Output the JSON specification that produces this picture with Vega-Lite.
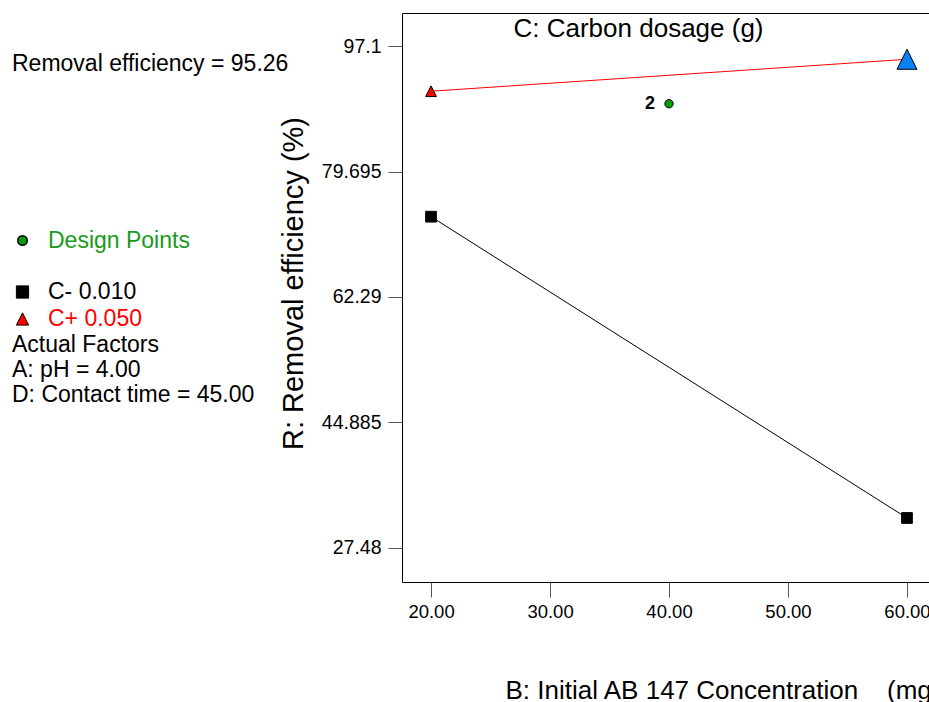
{
  "$schema": "https://vega.github.io/schema/vega-lite/v6.json",
  "width": 527,
  "height": 569,
  "autosize": {"type": "none"},
  "padding": {"left": 402, "top": 13, "right": 0, "bottom": 120},
  "background": "white",
  "config": {
    "view": {"stroke": null},
    "font": "Liberation Sans",
    "axis": {"grid": false, "labelFont": "Liberation Sans", "titleFont": "Liberation Sans", "labelColor": "#000", "titleColor": "#000", "domainColor": "#000", "tickColor": "#555", "titleFontWeight": "normal"},
    "legend": {"labelFont": "Liberation Sans", "titleFont": "Liberation Sans", "titleColor": "#000", "titleFontWeight": "normal", "titleLimit": 500, "labelLimit": 500}
  },
  "datasets": {
    "lines": [
      {"B": 20, "R": 73.43, "series": "C- 0.010"},
      {"B": 60, "R": 31.64, "series": "C- 0.010"},
      {"B": 20, "R": 90.83, "series": "C+ 0.050"},
      {"B": 60, "R": 95.26, "series": "C+ 0.050"}
    ],
    "design": [{"B": 40, "R": 89.1, "kind": "Design Points", "count": "2"}],
    "pred": [{"B": 60, "R": 95.26}]
  },
  "layer": [
    {
      "data": {"name": "lines"},
      "mark": {"type": "line", "strokeWidth": 1},
      "encoding": {
        "x": {
          "field": "B", "type": "quantitative",
          "scale": {"domain": [17.56, 61.85], "nice": false, "zero": false},
          "axis": {
            "orient": "bottom", "values": [20, 30, 40, 50, 60], "format": ".2f",
            "title": "B: Initial AB 147 Concentration\u00a0\u00a0\u00a0\u00a0(mg/L)",
            "titleX": 103, "titleY": 108, "titleAlign": "left", "titleBaseline": "middle", "titleAnchor": null,
            "titleFontSize": 26, "labelFontSize": 18.5, "tickSize": 15, "labelPadding": 5
          }
        },
        "y": {
          "field": "R", "type": "quantitative",
          "scale": {"domain": [22.76, 101.68], "nice": false, "zero": false},
          "axis": {
            "values": [27.48, 44.885, 62.29, 79.695, 97.1], "labelExpr": "'' + datum.value",
            "title": "R: Removal efficiency (%)",
            "titleX": -109, "titleY": 270, "titleAngle": 270, "titleAlign": "center", "titleBaseline": "middle",
            "titleFontSize": 29, "labelFontSize": 19.5, "tickSize": 14, "labelPadding": 7
          }
        },
        "color": {"field": "series", "type": "nominal", "scale": {"domain": ["C- 0.010", "C+ 0.050"], "range": ["#000000", "#ff0000"]}, "legend": null}
      }
    },
    {
      "data": {"name": "lines"},
      "mark": {"type": "point", "filled": true, "stroke": "black", "strokeWidth": 1, "opacity": 1, "size": 115},
      "encoding": {
        "x": {"field": "B", "type": "quantitative", "axis": {"orient": "top", "ticks": false, "labels": false, "title": "C: Carbon dosage (g)", "titleX": 236, "titleY": 15, "titleAlign": "center", "titleBaseline": "middle", "titleFontSize": 26, "titleAnchor": null}},
        "y": {"field": "R", "type": "quantitative"},
        "shape": {"field": "series", "type": "nominal", "scale": {"domain": ["C- 0.010", "C+ 0.050"], "range": ["square", "M-1,1L1,1L0,-1Z"]},
          "legend": {
            "orient": "none", "legendX": -390, "legendY": 267.5,
            "title": ["Actual Factors", "A: pH = 4.00", "D: Contact time = 45.00"],
            "titleOrient": "bottom", "titleAnchor": "start", "titleFontSize": 23, "titleLineHeight": 25, "titlePadding": 2,
            "labelFontSize": 23, "labelOffset": 14, "symbolOffset": -1, "symbolSize": 144,
            "symbolStrokeColor": "black", "symbolStrokeWidth": 1, "symbolOpacity": 1, "rowPadding": 3, "padding": 0,
            "labelColor": {"expr": "datum.label === 'C+ 0.050' ? '#ff0000' : '#000000'"},
            "encode": {"symbols": {"update": {"stroke": {"value": "black"}, "strokeWidth": {"value": 1}, "size": {"value": 150}}}}
          }
        },
        "fill": {"field": "series", "type": "nominal", "scale": {"domain": ["C- 0.010", "C+ 0.050"], "range": ["#000000", "#ff0000"]},
          "legend": {
            "orient": "none", "legendX": -390, "legendY": 267.5,
            "title": ["Actual Factors", "A: pH = 4.00", "D: Contact time = 45.00"],
            "titleOrient": "bottom", "titleAnchor": "start", "titleFontSize": 23, "titleLineHeight": 25, "titlePadding": 2,
            "labelFontSize": 23, "labelOffset": 14, "symbolOffset": -1, "symbolSize": 144,
            "symbolStrokeColor": "black", "symbolStrokeWidth": 1, "symbolOpacity": 1, "rowPadding": 3, "padding": 0,
            "labelColor": {"expr": "datum.label === 'C+ 0.050' ? '#ff0000' : '#000000'"},
            "encode": {"symbols": {"update": {"stroke": {"value": "black"}, "strokeWidth": {"value": 1}, "size": {"value": 150}}}}
          }
        }
      }
    },
    {
      "data": {"name": "design"},
      "mark": {"type": "point", "filled": true, "stroke": "black", "strokeWidth": 1, "opacity": 1, "size": 70},
      "encoding": {
        "x": {"field": "B", "type": "quantitative", "axis": null},
        "y": {"field": "R", "type": "quantitative"},
        "shape": {"field": "kind", "type": "nominal", "scale": {"domain": ["Design Points"], "range": ["circle"]},
          "legend": {
            "orient": "none", "legendX": -390, "legendY": 40,
            "title": "Removal efficiency = 95.26", "titleAnchor": "start", "titleFontSize": 23, "titlePadding": 153,
            "labelFontSize": 23, "labelColor": "#1a9a1a", "labelOffset": 14, "symbolOffset": -1, "symbolSize": 100,
            "symbolStrokeColor": "black", "symbolStrokeWidth": 1, "symbolOpacity": 1, "padding": 0,
            "encode": {"symbols": {"update": {"stroke": {"value": "black"}, "strokeWidth": {"value": 1.5}, "size": {"value": 90}}}}
          }
        },
        "fill": {"field": "kind", "type": "nominal", "scale": {"domain": ["Design Points"], "range": ["#0a9a0a"]},
          "legend": {
            "orient": "none", "legendX": -390, "legendY": 40,
            "title": "Removal efficiency = 95.26", "titleAnchor": "start", "titleFontSize": 23, "titlePadding": 153,
            "labelFontSize": 23, "labelColor": "#1a9a1a", "labelOffset": 14, "symbolOffset": -1, "symbolSize": 100,
            "symbolStrokeColor": "black", "symbolStrokeWidth": 1, "symbolOpacity": 1, "padding": 0,
            "encode": {"symbols": {"update": {"stroke": {"value": "black"}, "strokeWidth": {"value": 1.5}, "size": {"value": 90}}}}
          }
        }
      }
    },
    {
      "data": {"name": "design"},
      "mark": {"type": "text", "dx": -19, "fontSize": 18, "fontWeight": "bold", "align": "center", "baseline": "middle", "color": "#000"},
      "encoding": {
        "x": {"field": "B", "type": "quantitative", "axis": null},
        "y": {"field": "R", "type": "quantitative"},
        "text": {"field": "count", "type": "nominal"}
      }
    },
    {
      "data": {"name": "pred"},
      "mark": {"type": "point", "filled": true, "fill": "#0a80f5", "stroke": "black", "strokeWidth": 1, "opacity": 1, "shape": "M-1,1L1,1L0,-1Z", "size": 400},
      "encoding": {
        "x": {"field": "B", "type": "quantitative", "axis": null},
        "y": {"field": "R", "type": "quantitative"}
      }
    }
  ],
  "resolve": {
    "scale": {"shape": "independent", "fill": "independent", "color": "independent"},
    "legend": {"shape": "independent", "fill": "independent"}
  }
}
